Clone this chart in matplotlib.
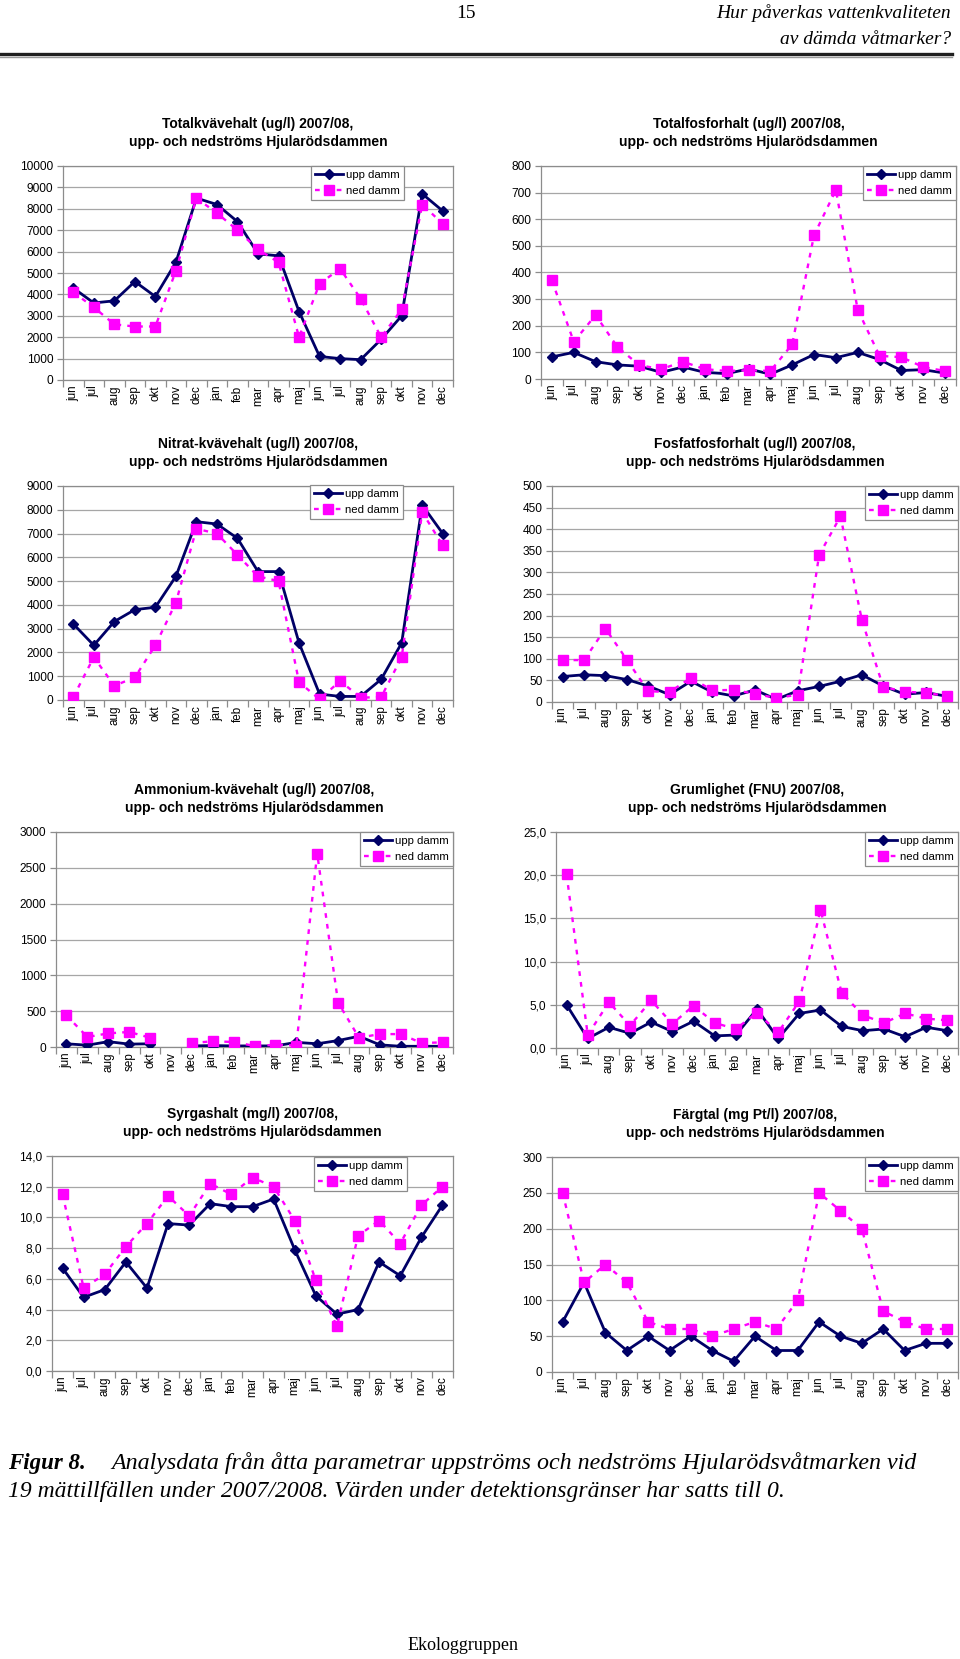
import numpy as np
import matplotlib
matplotlib.use("Agg")
import matplotlib.pyplot as plt
from matplotlib.ticker import FuncFormatter

plt.rcParams['font.family'] = ['Liberation Sans', 'DejaVu Sans']

W, H = 960, 1659

months = ["jun", "jul", "aug", "sep", "okt", "nov", "dec", "jan", "feb", "mar",
          "apr", "maj", "jun", "jul", "aug", "sep", "okt", "nov", "dec"]

# Totalkväve (ug/l)
totn_upp = [4300, 3600, 3700, 4600, 3900, 5500, 8500, 8200, 7400, 5900,
            5800, 3200, 1100, 1000, 950, 1900, 3000, 8700, 7900]
totn_ned = [4100, 3400, 2600, 2500, 2500, 5100, 8500, 7800, 7000, 6100,
            5500, 2000, 4500, 5200, 3800, 2000, 3300, 8200, 7300]

# Totalfosfor (ug/l)
totp_upp = [83, 100, 65, 53, 48, 25, 45, 25, 20, 38,
            18, 53, 92, 80, 100, 73, 32, 35, 22]
totp_ned = [370, 140, 240, 120, 52, 37, 65, 37, 30, 33,
            30, 130, 540, 710, 260, 87, 82, 45, 30]

# Nitrat-kväve (ug/l)
no3_upp = [3200, 2300, 3300, 3800, 3900, 5200, 7500, 7400, 6800, 5400,
           5400, 2400, 250, 150, 150, 870, 2400, 8200, 7000]
no3_ned = [120, 1800, 600, 950, 2300, 4100, 7200, 7000, 6100, 5200,
           5000, 750, 30, 800, 100, 120, 1800, 7900, 6500]

# Fosfatfosfor (ug/l)
po4_upp = [59, 63, 61, 52, 37, 17, 48, 23, 14, 28,
           6, 26, 36, 48, 63, 37, 18, 22, 13]
po4_ned = [97, 97, 170, 98, 25, 23, 56, 27, 28, 19,
           9, 17, 340, 430, 190, 35, 24, 21, 14]

# Ammonium-kväve (ug/l), nov 2007 saknas
nh4_upp = [45, 25, 75, 40, 45, np.nan, 15, 20, 15, 15,
           15, 65, 45, 90, 150, 30, 10, 10, 10]
nh4_ned = [440, 140, 190, 210, 130, np.nan, 55, 80, 70, 15,
           30, 20, 2700, 620, 130, 180, 180, 55, 65]

# Grumlighet (FNU)
turb_upp = [5.0, 1.1, 2.4, 1.7, 3.0, 1.9, 3.1, 1.4, 1.5, 4.5,
            1.1, 4.0, 4.4, 2.5, 2.0, 2.2, 1.3, 2.4, 2.0]
turb_ned = [20.1, 1.5, 5.3, 2.6, 5.5, 2.8, 4.9, 2.9, 2.2, 4.1,
            1.8, 5.4, 16.0, 6.4, 3.8, 2.9, 4.0, 3.4, 3.2]

# Syrgas (mg/l)
o2_upp = [6.7, 4.8, 5.3, 7.1, 5.4, 9.6, 9.5, 10.9, 10.7, 10.7,
          11.2, 7.9, 4.9, 3.7, 4.0, 7.1, 6.2, 8.7, 10.8]
o2_ned = [11.5, 5.4, 6.3, 8.1, 9.6, 11.4, 10.1, 12.2, 11.5, 12.6,
          12.0, 9.8, 5.9, 2.9, 8.8, 9.8, 8.3, 10.8, 12.0]

# Färgtal (mg Pt/l)
col_upp = [70, 125, 55, 30, 50, 30, 50, 30, 15, 50,
           30, 30, 70, 50, 40, 60, 30, 40, 40]
col_ned = [250, 125, 150, 125, 70, 60, 60, 50, 60, 70,
           60, 100, 250, 225, 200, 85, 70, 60, 60]

panels = [
    ("Totalkvävehalt (ug/l) 2007/08,", totn_upp, totn_ned, (0, 10000, 1000), False,
     (63, 166, 453, 380), (404, 166)),
    ("Totalfosforhalt (ug/l) 2007/08,", totp_upp, totp_ned, (0, 800, 100), False,
     (541, 166, 956, 379), (956, 166)),
    ("Nitrat-kvävehalt (ug/l) 2007/08,", no3_upp, no3_ned, (0, 9000, 1000), False,
     (63, 486, 453, 700), (403, 485)),
    ("Fosfatfosforhalt (ug/l) 2007/08,", po4_upp, po4_ned, (0, 500, 50), False,
     (552, 486, 958, 702), (958, 486)),
    ("Ammonium-kvävehalt (ug/l) 2007/08,", nh4_upp, nh4_ned, (0, 3000, 500), False,
     (56, 832, 453, 1047), (453, 832)),
    ("Grumlighet (FNU) 2007/08,", turb_upp, turb_ned, (0, 25, 5), True,
     (556, 832, 958, 1048), (958, 832)),
    ("Syrgashalt (mg/l) 2007/08,", o2_upp, o2_ned, (0, 14, 2), True,
     (52, 1156, 453, 1371), (407, 1157)),
    ("Färgtal (mg Pt/l) 2007/08,", col_upp, col_ned, (0, 300, 50), False,
     (552, 1157, 958, 1372), (958, 1157)),
]

fig = plt.figure(figsize=(W / 100, H / 100), dpi=100)

NAVY = "#000066"
PINK = "#ff00ff"
GRID = "#a6a6a6"

x = np.arange(len(months))

for title, upp, ned, (y0, y1, step), decimals, (l, t, r, b), (lx, ly) in panels:
    ax = fig.add_axes([l / W, 1 - b / H, (r - l) / W, (b - t) / H])
    ax.plot(x, upp, color=NAVY, lw=2.0, marker="D", ms=5, mfc=NAVY, mec=NAVY,
            label="upp damm", zorder=3)
    ax.plot(x, ned, color=PINK, lw=1.7, ls=(0, (2.0, 2.6)), marker="s", ms=6.8,
            mfc=PINK, mec=PINK, label="ned damm", zorder=4)
    ax.set_xlim(-0.5, len(months) - 0.5)
    ax.set_ylim(y0, y1)
    ax.set_yticks(np.arange(y0, y1 + step / 2, step))
    if decimals:
        ax.yaxis.set_major_formatter(FuncFormatter(lambda v, p: f"{v:.1f}".replace(".", ",")))
    else:
        ax.yaxis.set_major_formatter(FuncFormatter(lambda v, p: f"{v:.0f}"))
    ax.grid(axis="y", color=GRID, lw=0.9)
    ax.set_axisbelow(True)
    for s in ax.spines.values():
        s.set_color("#8c8c8c")
        s.set_linewidth(0.9)
    ax.set_xticks(x)
    ax.set_xticklabels(months, rotation=90, fontsize=8.4)
    ax.set_xticks(np.arange(-0.5, len(months)), minor=True)
    ax.tick_params(axis="x", which="major", length=0, pad=4)
    ax.tick_params(axis="x", which="minor", length=5, color="#8c8c8c", width=0.9)
    ax.tick_params(axis="y", length=4, color="#8c8c8c", width=0.9, labelsize=8.6, pad=3)

    cx = (l + r) / 2
    fig.text(cx / W, 1 - (t - 42) / H, title, ha="center", va="center",
             fontsize=10, fontweight="bold")
    fig.text(cx / W, 1 - (t - 24) / H, "upp- och nedströms Hjularödsdammen",
             ha="center", va="center", fontsize=10, fontweight="bold")

    leg = ax.legend(loc="upper right", bbox_to_anchor=(lx / W, 1 - ly / H),
                    bbox_transform=fig.transFigure, borderaxespad=0, fontsize=8.2,
                    fancybox=False, framealpha=1, edgecolor="#8c8c8c",
                    handlelength=2.5, handletextpad=0.25, borderpad=0.35,
                    labelspacing=0.55, numpoints=1)
    leg.get_frame().set_linewidth(0.9)

# header
fig.text(466 / W, 1 - 13 / H, "15", ha="center", va="center",
         fontsize=14, family="Liberation Serif")
fig.text(951 / W, 1 - 13 / H, "Hur påverkas vattenkvaliteten", ha="right", va="center",
         fontsize=14, family="Liberation Serif", style="italic")
fig.text(951 / W, 1 - 39 / H, "av dämda våtmarker?", ha="right", va="center",
         fontsize=14, family="Liberation Serif", style="italic")
fig.add_artist(plt.Line2D([0, 952 / W], [1 - 54 / H, 1 - 54 / H], color="#202020", lw=2.4))
fig.add_artist(plt.Line2D([0, 952 / W], [1 - 56.5 / H, 1 - 56.5 / H], color="#9a9a9a", lw=1.0))

# caption
fig.text(8 / W, 1 - 1463 / H, "Figur 8.", ha="left", va="center",
         fontsize=16.5, family="Liberation Serif", style="italic", fontweight="bold")
fig.text(111 / W, 1 - 1463 / H,
         "Analysdata från åtta parametrar uppströms och nedströms Hjularödsvåtmarken vid",
         ha="left", va="center", fontsize=17.3, family="Liberation Serif", style="italic")
fig.text(8 / W, 1 - 1492 / H,
         "19 mättillfällen under 2007/2008. Värden under detektionsgränser har satts till 0.",
         ha="left", va="center", fontsize=17.0, family="Liberation Serif", style="italic")

fig.text(463 / W, 1 - 1646 / H, "Ekologgruppen", ha="center", va="center",
         fontsize=13, family="Liberation Serif")

fig.savefig("out.png", dpi=100)
